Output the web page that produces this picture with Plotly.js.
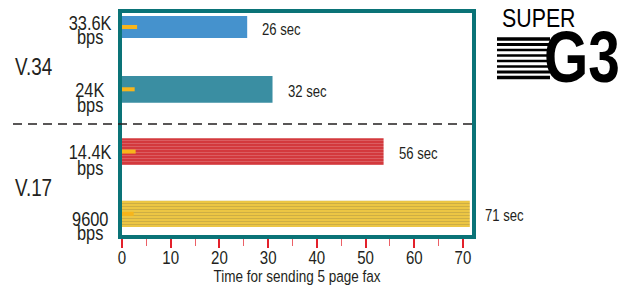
<!DOCTYPE html>
<html>
<head>
<meta charset="utf-8">
<script src="https://cdn.plot.ly/plotly-3.0.1.min.js"></script>
<style>html,body{margin:0;padding:0;background:#fff;}#chart{width:626px;height:285px;}</style>
</head>
<body>
<div id="chart"></div>
<script>
// ---- data ----
const categories = ['33.6K bps', '24K bps', '14.4K bps', '9600 bps'];
const speedLabels = ['33.6K', '24K', '14.4K', '9600'];
const unitLabel = 'bps';
const barValues = [25.7, 30.9, 53.7, 71.4];
const timeLabels = ['26 sec', '32 sec', '56 sec', '71 sec'];
const markerValues = [3.1, 2.6, 2.8, 2.4];
const groupLabels = ['V.34', 'V.17'];
const xTickValues = [0, 10, 20, 30, 40, 50, 60, 70];
const xTitle = 'Time for sending 5 page fax';

// ---- layout helpers (pixel -> paper) ----
const L = 122, R = 472, T = 13, B = 235;
const px = v => (v - L) / (R - L);
const py = v => (B - v) / (B - T);
const SANS = '"Liberation Sans", Arial, sans-serif';
const INK = '#231f20';
const TEAL = '#0a7377';
const NARROW_SCALE = 0.82;

const barColors = ['#4592cd', '#3a8ea2', '#d23539', '#efc843'];

const traces = [
  {
    type: 'bar', orientation: 'h',
    x: barValues, y: categories,
    width: [0.35, 0.43, 0.43, 0.42],
    marker: {
      color: barColors,
      line: {width: 0},
      pattern: {shape: ['', '', '-', '-'], fillmode: 'overlay', fgcolor: '#ffffff', fgopacity: 0.2, size: 3, solidity: 0.4}
    },
    hoverinfo: 'skip'
  },
  {
    type: 'bar', orientation: 'h',
    x: markerValues, y: categories,
    width: 0.065,
    marker: {color: '#f7b51b', line: {width: 0}},
    hoverinfo: 'skip'
  }
];

const annotations = [];
const scales = [];
function addAnn(a, s) { annotations.push(a); scales.push(s); }
// time labels at bar ends
timeLabels.forEach((t, i) => addAnn({
  x: barValues[i], y: categories[i], xref: 'x', yref: 'y',
  text: t, showarrow: false, xanchor: 'left', yanchor: 'middle',
  xshift: 13, yshift: -2,
  font: {family: SANS, size: 16, color: INK}
}, NARROW_SCALE));
// category labels (two lines, centered)
const numY = [22.6, 89.6, 152.3, 219.0];
const unitY = [37.2, 104.8, 167.8, 233.2];
speedLabels.forEach((s, i) => {
  addAnn({x: px(90), y: py(numY[i]), xref: 'paper', yref: 'paper', text: s,
    showarrow: false, xanchor: 'center', yanchor: 'middle',
    font: {family: SANS, size: 20, color: INK}}, NARROW_SCALE);
  addAnn({x: px(90), y: py(unitY[i]), xref: 'paper', yref: 'paper', text: unitLabel,
    showarrow: false, xanchor: 'center', yanchor: 'middle',
    font: {family: SANS, size: 20, color: INK}}, NARROW_SCALE);
});
// group labels
const groupY = [67, 188];
groupLabels.forEach((g, i) => addAnn({
  x: px(33.5), y: py(groupY[i]), xref: 'paper', yref: 'paper', text: g,
  showarrow: false, xanchor: 'center', yanchor: 'middle',
  font: {family: SANS, size: 23, color: INK}
}, NARROW_SCALE));
// logo
addAnn({x: px(539), y: py(18), xref: 'paper', yref: 'paper', text: 'SUPER',
  showarrow: false, xanchor: 'center', yanchor: 'middle',
  font: {family: SANS, size: 26, color: '#000'}}, NARROW_SCALE);
addAnn({x: px(582), y: py(57), xref: 'paper', yref: 'paper', text: '<b>G3</b>',
  showarrow: false, xanchor: 'center', yanchor: 'middle',
  font: {family: SANS, size: 72, color: '#000'}}, 0.79);

const shapes = [
  // dashed separator
  {type: 'line', xref: 'paper', yref: 'paper', x0: px(13), x1: 1, y0: py(124), y1: py(124),
   line: {color: INK, width: 1.3, dash: '9px,6px'}}
];
// logo speed lines
const speedY = [39, 44.5, 50, 55.5, 61, 66.5, 72, 77.5];
const speedW = [3.5, 3, 2.5, 2.5, 2.5, 2.5, 3, 3.5];
speedY.forEach((y, i) => shapes.push({type: 'line', xref: 'paper', yref: 'paper',
  x0: px(497), x1: px(550), y0: py(y), y1: py(y), line: {color: '#000', width: speedW[i]}}));

const layout = {
  width: 626, height: 285,
  margin: {l: L, r: 626 - R, t: T, b: 285 - B, pad: 0},
  paper_bgcolor: '#fff', plot_bgcolor: '#fff',
  barmode: 'overlay', showlegend: false,
  xaxis: {
    range: [0, 71.85], tickvals: xTickValues, ticktext: xTickValues.map(String),
    showgrid: false, zeroline: false,
    showline: true, linewidth: 4, linecolor: TEAL, mirror: true,
    ticks: 'outside', ticklen: 9, tickwidth: 2, tickcolor: '#e3212b',
    minor: {dtick: 5, tick0: 0, ticks: 'outside', ticklen: 7, tickwidth: 1, tickcolor: '#ec6167', showgrid: false},
    tickfont: {family: SANS, size: 17.5, color: INK},
    ticklabelstandoff: -5,
    title: {text: xTitle, font: {family: SANS, size: 16.5, color: INK}, standoff: 0}
  },
  yaxis: {
    type: 'category', range: [3.34, -0.225],
    showgrid: false, zeroline: false, showticklabels: false, ticks: '',
    showline: true, linewidth: 4, linecolor: TEAL, mirror: true
  },
  annotations: annotations,
  shapes: shapes
};

function narrowCss(el, origin, s) {
  el.style.transformBox = 'fill-box';
  el.style.transformOrigin = origin;
  el.style.transform = 'scaleX(' + s + ')';
}

Plotly.newPlot('chart', traces, layout, {staticPlot: true, displayModeBar: false}).then(gd => {
  gd.querySelectorAll('.annotation').forEach(a => {
    const idx = +a.getAttribute('data-index');
    const t = a.querySelector('text.annotation-text');
    if (!t || !scales[idx]) return;
    narrowCss(t, annotations[idx].xanchor === 'left' ? 'left center' : 'center', scales[idx]);
  });
  const xt = gd.querySelector('.xtitle');
  if (xt) narrowCss(xt, 'center', NARROW_SCALE);
  gd.querySelectorAll('.xtick text').forEach(t => {
    const x = parseFloat(t.getAttribute('x') || '0');
    const tr = t.getAttribute('transform') || '';
    t.setAttribute('transform', tr + ' translate(' + x + ',0) scale(0.86,1) translate(' + (-x) + ',0)');
  });
});
</script>
</body>
</html>
